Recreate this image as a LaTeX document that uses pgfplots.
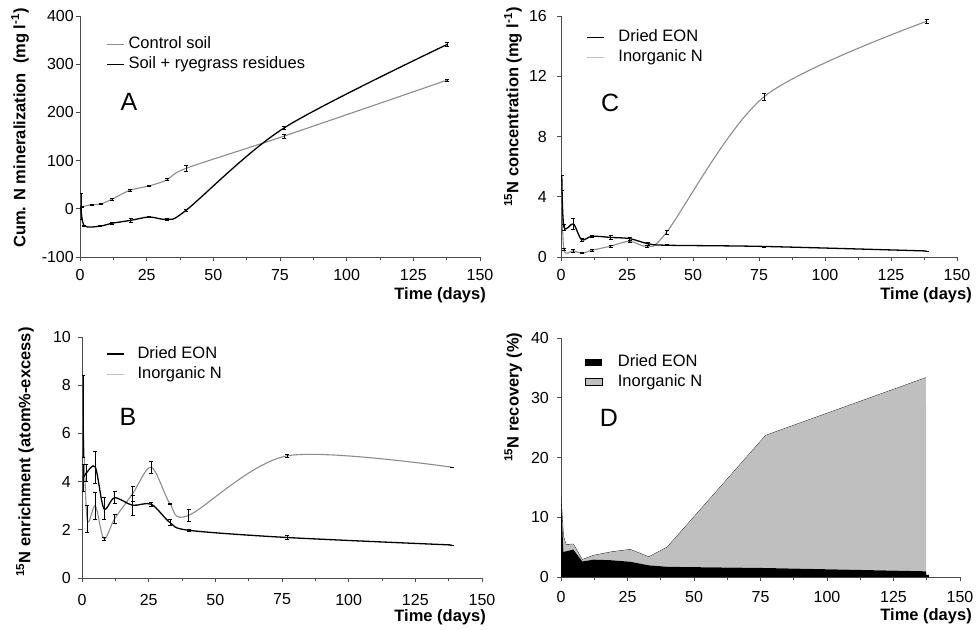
\documentclass[border=0pt]{standalone}
\usepackage{fontspec}
\setmainfont{Liberation Sans}
\usepackage{pgfplots}
\pgfplotsset{compat=1.18}
\definecolor{curvegray}{gray}{0.55}
\definecolor{leggray}{gray}{0.75}
\definecolor{areagray}{gray}{0.75}
\definecolor{axgray}{gray}{0.3}
\tikzset{lab/.style={font=\bfseries\fontsize{16.5}{19}\selectfont, inner sep=0pt}}
\pgfplotsset{
  panel/.style={
    scale only axis, anchor=south west,
    xmin=0, xmax=150, xtick={0,25,...,150}, minor x tick num=1,
    axis lines=left, axis line style={-, axgray, line width=0.8pt},
    tick style={axgray, line width=0.8pt}, tick align=outside,
    major tick length=4pt, minor tick length=3pt,
    ticklabel style={font=\fontsize{16}{19}\selectfont, inner sep=1pt},
    /pgf/number format/assume math mode=true,
    xlabel={Time (days)},
    legend cell align=left,
    legend style={draw=none, fill=none, anchor=north west, inner sep=0pt,
      font=\fontsize{16.5}{19}\selectfont, row sep=3pt,
      nodes={inner sep=1pt, text height=11.5pt, text depth=3.5pt}},
    legend image code/.code={\draw[##1] (0pt,0pt) -- (17pt,0pt);},
  },
  arealeg/.style={legend image code/.code={\path[##1] (0pt,-3.5pt) rectangle (17pt,3.5pt);}},
  eb/.style={error bars/.cd, y dir=both, y explicit,
    error bar style={black, line width=0.6pt},
    error mark options={rotate=90, black, mark size=2pt, line width=0.6pt}},
}
\begin{document}
\begin{tikzpicture}
\useasboundingbox (0,0) rectangle (979pt,629pt);
% ---------- A ----------
\begin{axis}[panel, at={(80pt,372pt)}, width=400pt, height=241pt,
  ymin=-100, ymax=400, ytick={-100,0,...,400},
  xticklabel style={yshift=-7pt}, yticklabel style={xshift=-1pt},
  every axis y label/.style={at={(axis description cs:-0.15,0.535)}, rotate=90, anchor=center, lab},
  every axis x label/.style={at={(axis description cs:1.015,-0.158)}, anchor=east, lab},
  ylabel={Cum. N mineralization\ \ (mg l\textsuperscript{-1})},
  legend style={at={(axis description cs:0.065,0.919)}, column sep=3pt}]
\addlegendimage{curvegray, line width=1.1pt}
\addlegendentry{Control soil}
\addlegendimage{black, line width=1.3pt}
\addlegendentry{Soil + ryegrass residues}
\addplot[curvegray, line width=1.1pt, smooth, forget plot, eb] coordinates {
 (0,0) +- (0,0)
 (0.7,4) +- (0,0.5)
 (4.4,8.5) +- (0,1)
 (7.8,10) +- (0,1.5)
 (12,20) +- (0,1.5)
 (18.8,38.5) +- (0,2)
 (26,47.5) +- (0,1.5)
 (32.8,60.5) +- (0,2)
 (39.8,84) +- (0,7)
 (76.6,151) +- (0,4)
 (137.7,267) +- (0,2)
};
\addplot[black, line width=1.3pt, smooth, forget plot, eb] coordinates {
 (0.3,5) +- (0,27)
 (1.6,-35) +- (0,1)
 (7.5,-36) +- (0,1)
 (12,-30) +- (0,3)
 (19,-24) +- (0,5)
 (26,-17) +- (0,1)
 (32.8,-22) +- (0,2)
 (39.8,-3) +- (0,2)
 (76.6,168) +- (0,3)
 (137.7,341) +- (0,4)
};
\node[font=\fontsize{25}{25}\selectfont] at (axis description cs:0.1225,0.643) {A};
\end{axis}
% ---------- C ----------
\begin{axis}[panel, at={(561pt,372pt)}, width=396pt, height=241pt,
  ymin=0, ymax=16, ytick={0,4,...,16},
  xticklabel style={yshift=-7pt}, yticklabel style={xshift=-9pt},
  every axis y label/.style={at={(axis description cs:-0.121,0.622)}, rotate=90, anchor=center, lab},
  every axis x label/.style={at={(axis description cs:1.038,-0.158)}, anchor=east, lab},
  ylabel={\textsuperscript{15}N concentration (mg l\textsuperscript{-1})},
  legend style={at={(axis description cs:0.063,0.948)}, column sep=13pt}]
\addlegendimage{black, line width=1.3pt}
\addlegendentry{Dried EON}
\addlegendimage{leggray, line width=1.1pt}
\addlegendentry{Inorganic N}
\addplot[curvegray, line width=1.1pt, smooth, forget plot, eb] coordinates {
 (0.3,4.4) +- (0,0)
 (1.1,0.5) +- (0,0.05)
 (4.7,0.42) +- (0,0.08)
 (7.8,0.25) +- (0,0.03)
 (11.8,0.45) +- (0,0.05)
 (18.8,0.72) +- (0,0.05)
 (26,1.05) +- (0,0.08)
 (32.5,0.72) +- (0,0.05)
 (40,1.65) +- (0,0.15)
 (77,10.65) +- (0,0.25)
 (138.5,15.65) +- (0,0.15)
};
\addplot[black, line width=1.3pt, smooth, forget plot, eb] coordinates {
 (0.3,5.44) +- (0,0)
 (1.1,2.0) +- (0,0.2)
 (4.7,2.2) +- (0,0.35)
 (7.8,1.15) +- (0,0.12)
 (11.8,1.38) +- (0,0.08)
 (18.8,1.3) +- (0,0.15)
 (26,1.22) +- (0,0.1)
 (33,0.88) +- (0,0.08)
 (40,0.78) +- (0,0.03)
 (77,0.7) +- (0,0.03)
 (138.5,0.4) +- (0,0)
};
\node[font=\fontsize{25}{25}\selectfont] at (axis description cs:0.124,0.639) {C};
\end{axis}
% ---------- B ----------
\begin{axis}[panel, at={(82pt,51pt)}, width=400pt, height=241pt,
  ymin=0, ymax=10, ytick={0,2,...,10},
  xticklabel style={yshift=-10.7pt}, yticklabel style={xshift=-6pt},
  every axis y label/.style={at={(axis description cs:-0.1425,0.523)}, rotate=90, anchor=center, lab},
  every axis x label/.style={at={(axis description cs:1.01,-0.162)}, anchor=east, lab},
  ylabel={\textsuperscript{15}N enrichment (atom\%-excess)},
  legend style={at={(axis description cs:0.06,0.965)}, column sep=12pt}]
\addlegendimage{black, line width=1.3pt}
\addlegendentry{Dried EON}
\addlegendimage{leggray, line width=1.1pt}
\addlegendentry{Inorganic N}
\addplot[curvegray, line width=1.1pt, smooth, forget plot, eb] coordinates {
 (0.4,6.7) +- (0,1.7)
 (1.9,2.45) +- (0,0.55)
 (5,3.0) +- (0,0.55)
 (8.2,1.63) +- (0,0.05)
 (12.2,2.45) +- (0,0.2)
 (19,3.5) +- (0,0.3)
 (26,4.6) +- (0,0.25)
 (33,3.08) +- (0,0.03)
 (40,2.6) +- (0,0.25)
 (77,5.07) +- (0,0.08)
 (138.6,4.6) +- (0,0)
};
\addplot[black, line width=1.3pt, smooth, forget plot, eb] coordinates {
 (0.4,4.15) +- (0,0.55)
 (1.6,4.35) +- (0,0.35)
 (5,4.6) +- (0,0.65)
 (8.2,2.88) +- (0,0.45)
 (12.2,3.33) +- (0,0.25)
 (19,3.02) +- (0,0.4)
 (26,3.06) +- (0,0.1)
 (33,2.3) +- (0,0.12)
 (40,1.98) +- (0,0.06)
 (77,1.68) +- (0,0.08)
 (138.6,1.37) +- (0,0)
};
\node[font=\fontsize{25}{25}\selectfont] at (axis description cs:0.115,0.668) {B};
\end{axis}
% ---------- D ----------
\begin{axis}[panel, arealeg, at={(561pt,52pt)}, width=399pt, height=239pt,
  ymin=0, ymax=40, ytick={0,10,...,40},
  xticklabel style={yshift=-9pt}, yticklabel style={xshift=-7pt},
  every axis y label/.style={at={(axis description cs:-0.12,0.753)}, rotate=90, anchor=center, lab},
  every axis x label/.style={at={(axis description cs:1.03,-0.163)}, anchor=east, lab},
  ylabel={\textsuperscript{15}N recovery (\%)},
  stack plots=y,
  legend style={at={(axis description cs:0.06,0.935)}, column sep=14pt}]
\addplot[fill=black, draw=none] coordinates {
 (0,13.2) (0.9,4.2) (1.9,4.3) (4.6,4.6) (8.0,2.6) (12.2,2.9) (19,2.8)
 (26,2.55) (33,1.95) (40,1.7) (77,1.5) (137.2,0.95) (137.3,0.35) (138.3,0.35) (138.35,0)
} \closedcycle;
\addlegendentry{Dried EON}
\addplot[fill=areagray, draw=none, forget plot] coordinates {
 (0,0) (0.9,2.6) (1.9,1.1) (4.6,0.9) (8.0,0.3) (12.2,0.7) (19,1.4)
 (26,2.05) (33,1.4) (40,3.3) (77,22.2) (137.2,32.4) (137.3,0) (138.3,0) (138.35,0)
} \closedcycle;
\addlegendimage{fill=areagray, draw=black, line width=0.7pt}
\addlegendentry{Inorganic N}
% top edge of the stacked area (zero increment on top of the stack)
\addplot[black, line width=0.7pt, forget plot] coordinates {
 (0,0) (0.9,0) (1.9,0) (4.6,0) (8.0,0) (12.2,0) (19,0)
 (26,0) (33,0) (40,0) (77,0) (137.2,0)
};
\node[font=\fontsize{25}{25}\selectfont] at (axis description cs:0.12,0.665) {D};
\end{axis}
\end{tikzpicture}
\end{document}
